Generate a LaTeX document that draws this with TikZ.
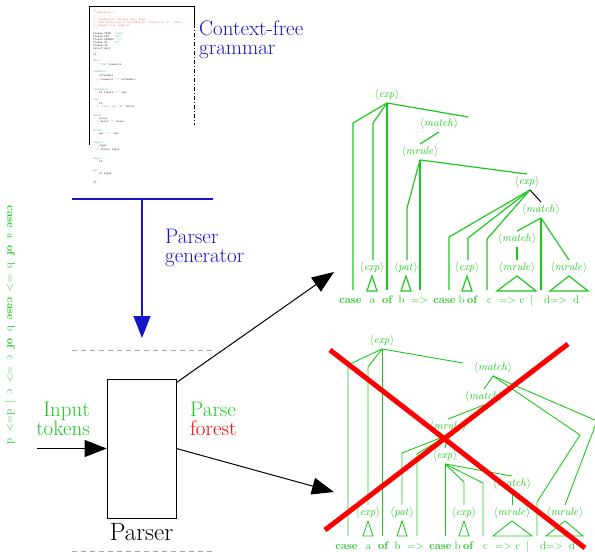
\documentclass[tikz,border=0pt]{standalone}
\usepackage{xcolor}
\usetikzlibrary{arrows.meta,positioning}

\definecolor{treegreen}{RGB}{30,200,30}
\definecolor{gramblue}{RGB}{20,20,200}
\definecolor{gramred}{RGB}{235,120,120}
\definecolor{gramteal}{RGB}{90,170,170}

\newcommand{\nterm}[1]{$\langle\mathit{#1}\rangle$}
\newcommand{\tokenrow}[1]{%
  \foreach \x/\tk [count=\i] in {350.5/{\textbf{case}},372.5/a,387.5/{\textbf{of}},401.5/b,419.5/{=>},
      444.5/{\textbf{case}},461.5/b,472.5/{\textbf{of}},489.5/c,507.5/{=>},522/c,532/{|},555.5/{d=>},576/d}
    {\node[tok] (#1\i) at (\x,0) {\tk};}}

\begin{document}
\begin{tikzpicture}[x=1pt,y=-1pt,
    nt/.style={text=treegreen, font=\fontsize{11}{13}\selectfont, inner xsep=0pt, inner ysep=2pt,
      text height=8.5pt, text depth=3pt},
    tok/.style={text=treegreen, font=\fontsize{11}{13}\selectfont, anchor=base, inner xsep=0pt,
      inner ysep=5pt, text height=8pt, text depth=2pt},
    branch/.style={treegreen, line width=1.2pt},
    thinbranch/.style={treegreen, line width=0.9pt},
    bigtext/.style={font=\fontsize{21}{19.5}\selectfont, inner sep=0pt, align=left},
    flow/.style={line width=1pt, -{Triangle[length=22pt,width=17pt]}},
    gline/.style={anchor=west, inner sep=0pt, font=\fontsize{3}{3.3}\ttfamily},
    fence/.style={gray!70, line width=1pt, dash pattern=on 5pt off 4pt}]
    \useasboundingbox (0,0) rectangle (595,552);

    % Grammar file
    \draw[line width=0.8pt] (89,145) -- (89,6) -- (194,6) -- (194,24);
    \draw[line width=0.8pt, dash pattern=on 4pt off 2pt on 1pt off 2pt] (194,24) -- (194,125);
    \foreach \y/\x/\c/\tk in {10.5/93/gramred/{/*}, 13.5/94/gramred/{* parsetest.y}, 16.5/94/gramred/{*},
        19.5/94/gramred/{* standard ML fun and case, from},
        22.5/94/gramred/{* "The Definition of Standard ML" (Milner et al., 1997),},
        25.5/94/gramred/{* chapter 2.8, page 10.}, 28.5/94/gramred/{*/},
        34/93/black!75/{\%token CASE~~{\color{gramteal}"case"}},
        37/93/black!75/{\%token FUN~~~{\color{gramteal}"fun"}},
        40/93/black!75/{\%token DARROW {\color{gramteal}"=>"}},
        43/93/black!75/{\%token OF~~~~{\color{gramteal}"of"}},
        46/93/black!75/{\%token ID}, 49/93/black!75/{\%start decl}, 55/93/black!75/{\%\%},
        61/93/gramteal/{decl:}, 64.5/99/black!75/{{\color{gramteal}"fun"} fundecls}, 67.5/97/black!75/{;},
        72/93/gramteal/{fundecls:}, 76/99/black!75/{atfundecl},
        79.5/97/black!75/{| fundecls {\color{gramteal}"|"} atfundecl}, 82.5/97/black!75/{;},
        89.5/93/gramteal/{atfundecl:}, 92.5/99/black!75/{ID atpats {\color{gramteal}"="} exp},
        95.5/97/black!75/{;},
        100/93/gramteal/{exp:}, 103.5/99/black!75/{ID},
        106.5/97/black!75/{| {\color{gramteal}"case" exp "of"} match}, 109.5/97/black!75/{;},
        116/93/gramteal/{match:}, 119/99/black!75/{mrule},
        122/97/black!75/{| match {\color{gramteal}"|"} mrule}, 125/97/black!75/{;},
        131/93/gramteal/{mrule:}, 134/99/black!75/{pat {\color{gramteal}"=>"} exp}, 137.5/97/black!75/{;},
        143/93/gramteal/{atpats:}, 146/99/black!75/{atpat}, 149.5/97/black!75/{| atpats atpat},
        152.5/97/black!75/{;},
        159/93/gramteal/{atpat:}, 162/99/black!75/{ID}, 165/97/black!75/{;},
        171/93/gramteal/{pat:}, 174/99/black!75/{ID atpat}, 177/97/black!75/{;},
        183/93/black!75/{\%\%}}
        \node[gline, text=\c] at (\x,\y) {\tk};
    \node[bigtext, anchor=north west, text=gramblue] (cfg) at (199,20.5) {Context-free\\grammar};

    % Parser generator
    \draw[gramblue, line width=1.2pt] (72,199) -- (213,199);
    \coordinate (gentop) at (142,199);
    \coordinate (genbot) at (142,338);
    \draw[flow, gramblue, line width=1.2pt] (gentop) -- (genbot);
    \node[bigtext, anchor=north west, text=gramblue] (pgen) at (165,228.7) {Parser\\generator};

    % Parser
    \draw[fence] (72,350) -- (213,350);
    \draw[fence] (72,551) -- (213,551);
    \node[draw, line width=0.8pt, minimum width=69pt, minimum height=139pt, inner sep=0pt]
        (parser) at (141.5,448.5) {};
    \node[below=3pt of parser, font=\fontsize{25}{27}\selectfont, inner sep=2pt] (parserlbl) {Parser};
    \node[bigtext, anchor=north east, align=right, text=treegreen] (intok) at (90,401.7) {Input\\tokens};
    \node[bigtext, anchor=north west] (pforest) at (190,401.7)
        {\textcolor{treegreen}{Parse}\\\textcolor{red}{forest}};
    \coordinate (tokin) at (37,448.5);
    \coordinate (fortop) at (334,272);
    \coordinate (forbot) at (334,492);
    \draw[flow] (tokin) -- (parser.west);
    \draw[flow] ([yshift=-4pt]parser.north east) -- (fortop);
    \draw[flow] (parser.east) -- (forbot);

    % Input tokens, vertical
    \node[rotate=-90, text=treegreen, font=\fontsize{11}{13}\selectfont, inner sep=0pt] (spine) at (10,325)
        {\spaceskip=6.2pt\relax\textbf{case} a \textbf{of} b => \textbf{case} b \textbf{of} c => c | d=> d};

    % Parse tree (accepted)
    \begin{scope}[shift={(0,303)}]
        \tokenrow{k}
    \end{scope}
    \node[nt] (ta) at (387,95) {\nterm{exp}};
    \node[nt] (tb) at (439,124) {\nterm{match}};
    \node[nt] (tc) at (420,152) {\nterm{mrule}};
    \node[nt] (td) at (527,182) {\nterm{exp}};
    \node[nt] (te) at (541,210) {\nterm{match}};
    \node[nt] (tf) at (517,239) {\nterm{match}};
    \node[nt] (tg) at (372,268) {\nterm{exp}};
    \node[nt] (th) at (406,268) {\nterm{pat}};
    \node[nt] (ti) at (467,268) {\nterm{exp}};
    \node[nt] (tj) at (517,268) {\nterm{mrule}};
    \node[nt] (tk) at (569,268) {\nterm{mrule}};
    \coordinate (tstub) at (468,117);
    \draw[branch] (ta.south) -- (353,123) -- (353,123 |- k1.north);
    \draw[branch] (ta.south) -- (373,123) -- (373,123 |- tg.north);
    \draw[branch] (ta.south) -- (ta.south |- k3.north);
    \draw[branch] (ta.south) -- (tstub);
    \draw[branch] (tb.south) -- (tc.north);
    \draw[branch] (tc.south) -- (407,208) -- (407,208 |- th.north);
    \draw[branch] (tc.south) -- (tc.south |- k5.north);
    \draw[branch] (tc.south) -- (td.north);
    \draw[branch] ([xshift=3pt]td.south) -- (449,237) -- (449,237 |- k6.north);
    \draw[branch] ([xshift=3pt]td.south) -- (468,238) -- (468,238 |- ti.north);
    \draw[branch] ([xshift=3pt]td.south) -- (487,239) -- (487,239 |- k9.north);
    \draw[line width=1pt] ([xshift=3pt]td.south) -- (te.north);
    \draw[branch] (te.south) -- (tf.north);
    \draw[branch] (te.south) -- (te.south |- k12.north);
    \draw[branch] (te.south) -- (tk.north);
    \draw[branch] (tf.south) -- (tj.north);
    \foreach \n in {tg,th,ti}
        \draw[branch] (\n.south) -- ++(-5,15) -- ++(10,0) -- cycle;
    \draw[branch] (tj.south) -- ++(-20,15) -- ++(39,0) -- cycle;
    \draw[branch] (tk.south) -- ++(-19,15) -- ++(38,0) -- cycle;

    % Parse tree (rejected)
    \begin{scope}[shift={(-4,549)}]
        \tokenrow{m}
    \end{scope}
    \node[nt] (ba) at (382,341) {\nterm{exp}};
    \node[nt] (bb) at (493,368) {\nterm{match}};
    \node[nt] (bc) at (484,397) {\nterm{match}};
    \node[nt] (bd) at (448,427) {\nterm{mrule}};
    \node[nt] (be) at (445,456) {\nterm{exp}};
    \node[nt] (bf) at (512,484) {\nterm{match}};
    \node[nt] (bg) at (368,513) {\nterm{exp}};
    \node[nt] (bh) at (402,513) {\nterm{pat}};
    \node[nt] (bi) at (464,513) {\nterm{exp}};
    \node[nt] (bj) at (512,513) {\nterm{mrule}};
    \node[nt] (bk) at (565,513) {\nterm{mrule}};
    \coordinate (bstub) at (463,363);
    \draw[thinbranch] (ba.south) -- (348,365) -- (348,365 |- m1.north);
    \draw[thinbranch] (ba.south) -- (368,367) -- (368,367 |- bg.north);
    \draw[thinbranch] (ba.south) -- (ba.south |- m3.north);
    \draw[thinbranch] (ba.south) -- (bstub);
    \draw[thinbranch] (bb.south) -- (bc.north);
    \draw[thinbranch] (bb.south) -- (580,435) -- (537,502) -- (537,502 |- m13.north);
    \draw[thinbranch] (bb.south) -- (597,421) -- (bk.north);
    \draw[thinbranch] (bc.south) -- (bd.north);
    \draw[thinbranch] (bd.south) -- (402,453) -- (402,453 |- bh.north);
    \draw[thinbranch] (bd.south) -- (417,454) -- (417,454 |- m5.north);
    \draw[thinbranch] (bd.south) -- (be.north);
    \draw[thinbranch] (be.south) -- (be.south |- m8.north);
    \draw[thinbranch] (be.south) -- (464,482) -- (464,482 |- bi.north);
    \draw[thinbranch] (be.south) -- (483,483) -- (483,483 |- m9.north);
    \draw[thinbranch] (be.south) -- (bf.north);
    \draw[thinbranch] (bf.south) -- (bj.north);
    \foreach \n in {bg,bh,bi}
        \draw[thinbranch] (\n.south) -- ++(-5,15) -- ++(10,0) -- cycle;
    \draw[thinbranch] (bj.south) -- ++(-19,15) -- ++(39,0) -- cycle;
    \draw[thinbranch] (bk.south) -- ++(-19,15) -- ++(37,0) -- cycle;

    % Cross
    \draw[red, line width=5pt] (330,350) -- (585,548);
    \draw[red, line width=5pt] (568,344) -- (325,530);
\end{tikzpicture}
\end{document}
